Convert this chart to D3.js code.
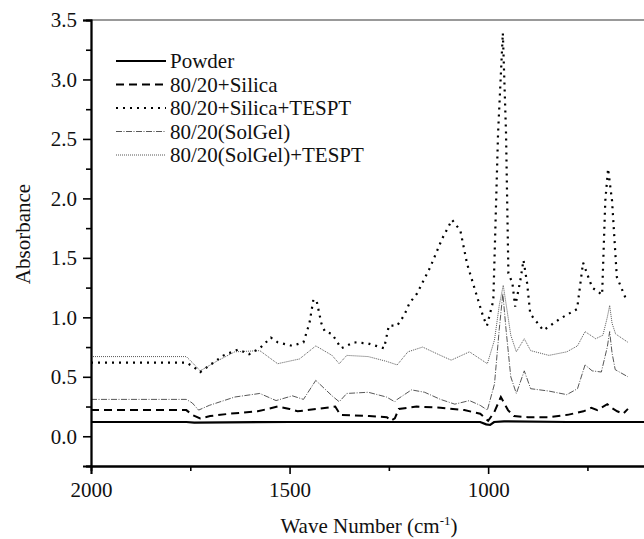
<!DOCTYPE html>
<html>
<head>
<meta charset="utf-8">
<script src="https://cdn.jsdelivr.net/npm/d3@7"></script>
<style>
  body { margin: 0; background: #fff; }
</style>
</head>
<body>
<div id="chart"></div>
<script>
// series data (wave number, absorbance)
const powderWn  = [2000, 1760, 1740, 1500, 1200, 1020, 1005, 995, 985, 960, 800, 600];
const powderAbs = [0.12, 0.12, 0.115, 0.12, 0.12, 0.12, 0.10, 0.095, 0.12, 0.125, 0.12, 0.12];

const silicaWn  = [2000, 1760, 1745, 1725, 1700, 1650, 1580, 1530, 1500, 1480, 1430, 1385, 1372, 1300, 1255, 1245, 1235, 1225, 1180, 1120, 1060, 1020, 1000, 985, 968, 950, 935, 900, 850, 800, 760, 740, 725, 700, 690, 675, 660, 648];
const silicaAbs = [0.22, 0.22, 0.18, 0.15, 0.17, 0.19, 0.21, 0.25, 0.23, 0.21, 0.23, 0.25, 0.18, 0.17, 0.16, 0.13, 0.15, 0.23, 0.25, 0.24, 0.22, 0.19, 0.13, 0.2, 0.33, 0.22, 0.17, 0.16, 0.16, 0.18, 0.21, 0.24, 0.22, 0.27, 0.24, 0.21, 0.19, 0.23];

const tesptWn  = [2000, 1760, 1740, 1725, 1700, 1666, 1629, 1602, 1575, 1547, 1530, 1493, 1465, 1450, 1440, 1432, 1420, 1411, 1393, 1370, 1338, 1302, 1262, 1250, 1229, 1211, 1198, 1179, 1146, 1116, 1091, 1070, 1053, 1033, 1012, 1003, 987, 975, 963, 955, 949, 939, 932, 919, 911, 902, 894, 861, 818, 776, 761, 738, 713, 705, 698, 688, 676, 650];
const tesptAbs = [0.62, 0.62, 0.58, 0.54, 0.6, 0.68, 0.73, 0.69, 0.74, 0.83, 0.79, 0.76, 0.79, 0.95, 1.15, 1.14, 0.95, 0.88, 0.86, 0.74, 0.79, 0.78, 0.74, 0.93, 0.93, 1.02, 1.12, 1.2, 1.42, 1.66, 1.82, 1.73, 1.45, 1.23, 1.0, 0.93, 1.14, 2.55, 3.39, 2.55, 1.37, 1.29, 1.09, 1.31, 1.48, 1.29, 1.03, 0.89, 0.99, 1.07, 1.46, 1.25, 1.19, 1.98, 2.25, 1.98, 1.34, 1.13];

const solgelWn  = [2000, 1760, 1745, 1729, 1702, 1638, 1575, 1534, 1493, 1465, 1434, 1393, 1375, 1356, 1302, 1256, 1235, 1229, 1193, 1160, 1120, 1084, 1047, 1020, 1002, 984, 972, 963, 955, 943, 929, 909, 893, 847, 802, 775, 756, 738, 715, 700, 694, 688, 680, 648];
const solgelAbs = [0.31, 0.31, 0.28, 0.22, 0.26, 0.33, 0.36, 0.30, 0.34, 0.31, 0.47, 0.34, 0.29, 0.36, 0.37, 0.33, 0.29, 0.31, 0.39, 0.37, 0.31, 0.27, 0.3, 0.26, 0.22, 0.44, 0.9, 1.2, 0.9, 0.5, 0.36, 0.55, 0.4, 0.38, 0.35, 0.4, 0.6, 0.55, 0.54, 0.75, 0.88, 0.7, 0.56, 0.5];

const solgelTWn  = [2000, 1760, 1745, 1725, 1684, 1638, 1575, 1530, 1475, 1434, 1393, 1375, 1356, 1302, 1256, 1229, 1202, 1165, 1120, 1093, 1047, 1020, 1002, 984, 972, 962, 952, 943, 929, 909, 893, 847, 802, 775, 756, 729, 711, 700, 694, 688, 679, 648];
const solgelTAbs = [0.67, 0.67, 0.62, 0.55, 0.63, 0.71, 0.72, 0.61, 0.65, 0.76, 0.68, 0.61, 0.68, 0.67, 0.63, 0.6, 0.71, 0.75, 0.68, 0.64, 0.71, 0.65, 0.61, 0.81, 1.1, 1.27, 1.05, 0.85, 0.71, 0.82, 0.72, 0.68, 0.71, 0.76, 0.88, 0.82, 0.85, 1.0, 1.1, 0.95, 0.86, 0.79];

const seriesNames = ["Powder", "80/20+Silica", "80/20+Silica+TESPT", "80/20(SolGel)", "80/20(SolGel)+TESPT"];
const yTicks = [0.0, 0.5, 1.0, 1.5, 2.0, 2.5, 3.0, 3.5];
const xTicks = [2000, 1500, 1000];

const width = 644, height = 539;
const margin = {left: 91, right: 647, top: 20, bottom: 466};
const serif = "'Liberation Serif', 'DejaVu Serif', 'Times New Roman', Times, serif";

const svg = d3.select("#chart").append("svg")
    .attr("width", width)
    .attr("height", height);

const x = d3.scaleLinear().domain([2000, 600]).range([margin.left, margin.right]);
const y = d3.scaleLinear().domain([-0.25, 3.5]).range([margin.bottom, margin.top]);

// line styles per series
const styles = [
    {stroke: "#000", width: 2.2, dash: null},
    {stroke: "#000", width: 2, dash: "8,5"},
    {stroke: "#000", width: 2.2, dash: "2,5"},
    {stroke: "#444", width: 0.9, dash: "6,1.5,1,1.5"},
    {stroke: "#444", width: 0.9, dash: "1,1"}
];

const series = [
    d3.zip(powderWn, powderAbs),
    d3.zip(silicaWn, silicaAbs),
    d3.zip(tesptWn, tesptAbs),
    d3.zip(solgelWn, solgelAbs),
    d3.zip(solgelTWn, solgelTAbs)
];

const line = d3.line()
    .x(d => x(d[0]))
    .y(d => y(d[1]));

// top frame
svg.append("line")
    .attr("x1", margin.left).attr("x2", width)
    .attr("y1", margin.top).attr("y2", margin.top)
    .attr("stroke", "#777").attr("stroke-width", 1.5);

svg.selectAll("path.series")
    .data(series)
    .enter().append("path")
    .attr("class", "series")
    .attr("d", line)
    .attr("fill", "none")
    .attr("stroke", (d, i) => styles[i].stroke)
    .attr("stroke-width", (d, i) => styles[i].width)
    .attr("stroke-dasharray", (d, i) => styles[i].dash);

// axes
const yAxis = d3.axisLeft(y).tickValues(yTicks).tickFormat(d3.format(".1f")).tickSize(8).tickPadding(6);
const yMinor = d3.axisLeft(y).tickValues([-0.25, 0.25, 0.75, 1.25, 1.75, 2.25, 2.75, 3.25]).tickFormat("").tickSize(5);
const xAxis = d3.axisBottom(x).tickValues(xTicks).tickFormat(d3.format("d")).tickSize(8).tickPadding(8);
const xMinor = d3.axisBottom(x).tickValues([1750, 1250, 750]).tickFormat("").tickSize(5);

svg.append("g").attr("transform", `translate(${margin.left},0)`).call(yAxis);
svg.append("g").attr("transform", `translate(${margin.left},0)`).call(yMinor);
svg.append("g").attr("transform", `translate(0,${margin.bottom})`).call(xAxis);
svg.append("g").attr("transform", `translate(0,${margin.bottom})`).call(xMinor);

svg.selectAll(".domain").attr("stroke", "#000").attr("stroke-width", 1.8);
svg.selectAll(".tick line").attr("stroke", "#000").attr("stroke-width", 1.6);
svg.selectAll(".tick text").style("font-size", "21px").attr("fill", "#111");

// axis titles
svg.append("text")
    .attr("transform", "translate(30,234) rotate(-90)")
    .attr("text-anchor", "middle")
    .style("font-size", "21px")
    .text("Absorbance");

const xt = svg.append("text")
    .attr("x", 369).attr("y", 533)
    .attr("text-anchor", "middle")
    .style("font-size", "21px");
xt.append("tspan").text("Wave Number (cm");
xt.append("tspan").attr("dy", -8).style("font-size", "13px").text("-1");
xt.append("tspan").attr("dy", 8).text(")");

// legend
const legend = svg.append("g");
seriesNames.forEach((name, i) => {
    const ly = 61 + i * 23.5;
    legend.append("line")
        .attr("x1", 116).attr("x2", 166)
        .attr("y1", ly).attr("y2", ly)
        .attr("stroke", styles[i].stroke)
        .attr("stroke-width", styles[i].width)
        .attr("stroke-dasharray", styles[i].dash);
    legend.append("text")
        .attr("x", 170).attr("y", ly)
        .attr("dy", "0.35em")
        .style("font-size", "21px")
        .text(name);
});

svg.selectAll("g").attr("font-family", serif);
svg.selectAll("text").style("font-family", serif).style("fill", "#111");
</script>
</body>
</html>
